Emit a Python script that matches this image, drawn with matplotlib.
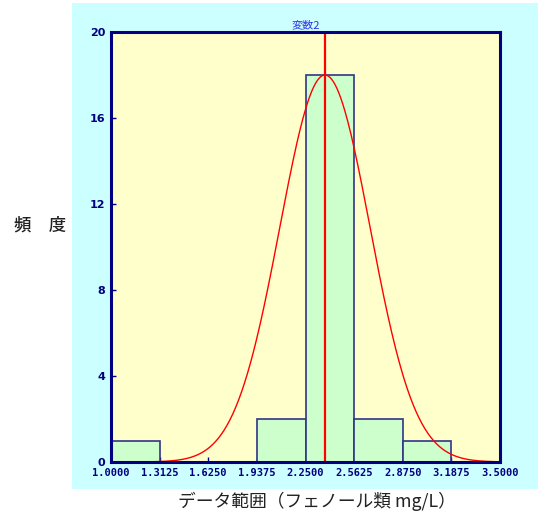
import numpy as np
import matplotlib
matplotlib.use("Agg")
import matplotlib.pyplot as plt
from matplotlib.patches import Rectangle

plt.rcParams['font.family'] = ['Noto Sans CJK JP', 'DejaVu Sans']

# data
bin_edges = [1.0, 1.3125, 1.625, 1.9375, 2.25, 2.5625, 2.875, 3.1875, 3.5]
counts = [1, 0, 0, 2, 18, 2, 1, 0]
tick_labels = ["1.0000", "1.3125", "1.6250", "1.9375", "2.2500",
               "2.5625", "2.8750", "3.1875", "3.5000"]
y_ticks = [0, 4, 8, 12, 16, 20]
mean_value = 2.375
sd_value = 0.29
title = "変数2"
xlabel = "データ範囲（フェノール類 mg/L）"
ylabel = "頻　度"

W, H = 539, 520
fig = plt.figure(figsize=(W / 100, H / 100), dpi=100)
fig.patch.set_facecolor("white")

# cyan panel
fig.patches.append(Rectangle((72 / W, 1 - 489 / H), (538 - 72) / W, (489 - 3) / H,
                             transform=fig.transFigure, facecolor="#CCFFFF",
                             edgecolor="none", zorder=-5))

ax = fig.add_axes([111 / W, 1 - 462 / H, (500 - 111) / W, (462 - 32) / H])
ax.set_zorder(2)
ax.set_facecolor("#FFFFCC")

navy = "#000080"
widths = np.diff(bin_edges)
ax.bar(bin_edges[:-1], counts, width=widths, align="edge",
       facecolor="#CCFFCC", edgecolor="#333388", linewidth=1.2, zorder=2)

xs = np.linspace(bin_edges[0], bin_edges[-1], 400)
peak = max(counts)
ys = peak * np.exp(-0.5 * ((xs - mean_value) / sd_value) ** 2)
ax.plot(xs, ys, color="red", linewidth=1.0, zorder=3)
ax.axvline(mean_value, color="red", linewidth=1.6, zorder=4)

ax.set_xlim(bin_edges[0], bin_edges[-1])
ax.set_ylim(0, 20)
ax.set_xticks(bin_edges)
ax.set_xticklabels(tick_labels, family="DejaVu Sans Mono", fontsize=7.5,
                   fontweight="bold", color=navy)
ax.set_yticks(y_ticks)
ax.set_yticklabels([str(v) for v in y_ticks], family="DejaVu Sans",
                   fontsize=8, fontweight="bold", color=navy)
ax.tick_params(direction="in", length=3.5, width=1, color=navy)
ax.tick_params(axis="x", pad=4)
ax.tick_params(axis="y", pad=4)
for s in ax.spines.values():
    s.set_color(navy)
    s.set_linewidth(2.2)
    s.set_zorder(5)

ax.set_title(title, fontsize=8, color="#3333EE", pad=3)

fig.text(40 / W, 1 - 226 / H, ylabel, ha="center", va="center",
         fontsize=12.5, fontweight="medium", color="#222222")
fig.text(317 / W, 1 - 501 / H, xlabel, ha="center", va="center",
         fontsize=12.8, color="#222222")

fig.savefig("out.png", dpi=100)
